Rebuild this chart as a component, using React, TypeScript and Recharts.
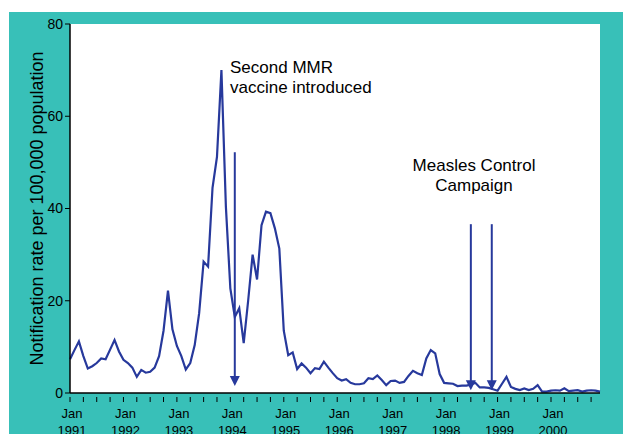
import { LineChart, Line, XAxis, YAxis, CartesianGrid, ReferenceLine } from "recharts";

// monthly notification rate, Jan 1991 .. Dec 2000
const rates = [
  7.3, 9.3, 11.2, 8.0, 5.3, 5.8, 6.5, 7.5, 7.3, 9.4, 11.5, 9.0,
  7.2, 6.5, 5.5, 3.5, 5.0, 4.4, 4.6, 5.5, 8.0, 13.5, 22.2, 13.8,
  10.2, 8.0, 5.1, 6.5, 10.4, 17.3, 28.5, 27.4, 44.5, 51.2, 70.0, 40.4,
  22.7, 16.5, 18.4, 10.8, 20.0, 30.0, 24.6, 36.4, 39.3, 39.0, 35.7, 31.3,
  13.5, 8.2, 8.8, 5.2, 6.4, 5.5, 4.3, 5.4, 5.2, 6.8, 5.5, 4.3,
  3.2, 2.7, 3.0, 2.2, 1.9, 1.9, 2.1, 3.2, 3.0, 3.8, 2.8, 1.7,
  2.6, 2.7, 2.2, 2.4, 3.7, 4.8, 4.3, 3.9, 7.5, 9.3, 8.6, 4.1,
  2.2, 2.1, 2.0, 1.5, 1.6, 1.6, 1.8, 2.2, 1.2, 1.2, 1.1, 0.8,
  0.5, 2.0, 3.5, 1.3, 0.9, 0.65, 1.0, 0.65, 0.9, 1.7, 0.3, 0.3,
  0.5, 0.6, 0.5, 1.0, 0.4, 0.5, 0.6, 0.3, 0.5, 0.6, 0.5, 0.3,
];
const years = ["1991", "1992", "1993", "1994", "1995", "1996", "1997", "1998", "1999", "2000"];
const yTicks = [0, 20, 40, 60, 80];
const xTicks = Array.from({ length: 40 }, (_, k) => k * 3);

// arrows: [month index, top value, tip value]
const arrows = [
  [37, 52.2, 1.5],
  [90, 36.6, 0.6],
  [94.7, 36.6, 0.6],
];

const data = rates.map((v, i) => ({ i, v }));

const NAVY = "#27399c";
const TEAL = "#38c0b8";
const FONT = "'Liberation Sans', Arial, sans-serif";

function XTick(props: any) {
  const { x, y, payload } = props;
  const i = payload.value;
  return (
    <g>
      <line x1={x} y1={y - 4} x2={x} y2={y + 1} stroke="#000" strokeWidth={1} />
      {i % 12 === 0 && (
        <text x={x + 2} y={y} textAnchor="middle" fontSize={13} fontFamily={FONT} fill="#000">
          <tspan x={x + 2} dy={17}>Jan</tspan>
          <tspan x={x + 2} dy={17}>{years[i / 12]}</tspan>
        </text>
      )}
    </g>
  );
}

function Arrow(props: any) {
  const { x1, y1, x2, y2 } = props;
  if (x1 == null) return null;
  return (
    <g>
      <line x1={x1} y1={y1} x2={x2} y2={y2 - 8} stroke={NAVY} strokeWidth={2} />
      <polygon points={`${x2 - 5},${y2 - 10} ${x2 + 5},${y2 - 10} ${x2},${y2}`} fill={NAVY} />
    </g>
  );
}

export default function App() {
  return (
    <div style={{ position: "absolute", left: 0, top: 0, width: 623, height: 434, background: "#fff", overflow: "hidden" }}>
      <div style={{ position: "absolute", left: 9, top: 12, width: 614, height: 422, background: TEAL }} />
      <div style={{ position: "absolute", left: 0, top: 0 }}>
        <LineChart width={623} height={434} data={data} margin={{ top: 24, right: 23, left: 0, bottom: 0 }}>
          <CartesianGrid horizontal={false} vertical={false} fill="#fff" />
          <XAxis
            dataKey="i"
            type="number"
            domain={[0, 119]}
            ticks={xTicks}
            interval={0}
            height={41}
            tickLine={false}
            tick={<XTick />}
            axisLine={{ stroke: "#000", strokeWidth: 1.5 }}
          />
          <YAxis
            type="number"
            domain={[0, 80]}
            ticks={yTicks}
            width={70}
            tickSize={5}
            tickLine={{ stroke: "#000" }}
            axisLine={{ stroke: "#000", strokeWidth: 1.5 }}
            tick={{ fontSize: 14, fontFamily: FONT, fill: "#000" }}
            label={{
              value: "Notification rate per 100,000 population",
              angle: -90,
              position: "insideLeft",
              dx: 32,
              dy: 0,
              style: { fontSize: 18, fontFamily: FONT, fill: "#000", textAnchor: "middle" },
            }}
          />
          <Line type="linear" dataKey="v" stroke={NAVY} strokeWidth={2.2} dot={false} isAnimationActive={false} />
          {arrows.map(([m, top, tip], k) => (
            <ReferenceLine
              key={k}
              segment={[{ x: m, y: top }, { x: m, y: tip }]}
              stroke={NAVY}
              shape={<Arrow />}
            />
          ))}
        </LineChart>
      </div>
      <div style={{ position: "absolute", left: 230, top: 58, fontFamily: FONT, fontSize: 17, lineHeight: "20px", color: "#000" }}>
        Second MMR
        <br />
        vaccine introduced
      </div>
      <div style={{ position: "absolute", left: 374, width: 200, top: 156, textAlign: "center", fontFamily: FONT, fontSize: 17, lineHeight: "20px", color: "#000" }}>
        Measles Control
        <br />
        Campaign
      </div>
    </div>
  );
}
